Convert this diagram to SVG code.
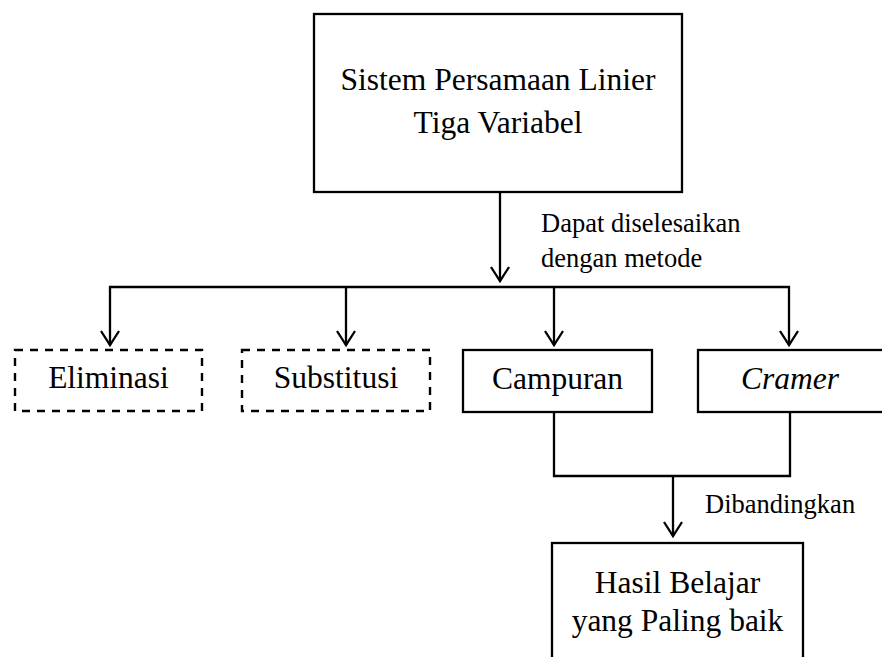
<svg xmlns="http://www.w3.org/2000/svg" width="882" height="657" viewBox="0 0 882 657">
<style>
.box{fill:#fff;stroke:#000;stroke-width:2.3}
.dash{fill:#fff;stroke:#000;stroke-width:2.4;stroke-dasharray:8 7}
.ln{fill:none;stroke:#000;stroke-width:2.3}
.ah{fill:none;stroke:#000;stroke-width:2.3;stroke-linejoin:miter}
.t{font-family:"Liberation Serif","Times New Roman",serif;font-size:31.5px;fill:#000;text-anchor:middle}
.lb{font-family:"Liberation Serif","Times New Roman",serif;font-size:26.5px;fill:#000}
</style>
<rect width="882" height="657" fill="#fff"/>
<g id="connectors">
<line class="ln" x1="500" y1="192" x2="500" y2="281"/>
<path class="ah" d="M491,267 L500,281 L509,267"/>
<polyline class="ln" points="110,345 110,287 789,287 789,345"/>
<line class="ln" x1="346" y1="287" x2="346" y2="345"/>
<line class="ln" x1="554" y1="287" x2="554" y2="345"/>
<path class="ah" d="M101,331 L110,345 L119,331"/>
<path class="ah" d="M337,331 L346,345 L355,331"/>
<path class="ah" d="M545,331 L554,345 L563,331"/>
<path class="ah" d="M780,331 L789,345 L798,331"/>
<polyline class="ln" points="554,412 554,476 790,476 790,412"/>
<line class="ln" x1="673" y1="476" x2="673" y2="536"/>
<path class="ah" d="M664,522 L673,536 L682,522"/>
<text class="lb" x="541" y="232">Dapat diselesaikan</text>
<text class="lb" x="541" y="267">dengan metode</text>
<text class="lb" x="705" y="513">Dibandingkan</text>
</g>
<g id="node-spltv">
<rect class="box" x="314" y="14" width="368" height="178"/>
<text class="t" x="498" y="90">Sistem Persamaan Linier</text>
<text class="t" x="498" y="133">Tiga Variabel</text>
</g>
<g id="node-eliminasi">
<rect class="dash" x="15" y="350" width="187" height="61"/>
<text class="t" x="108.5" y="388">Eliminasi</text>
</g>
<g id="node-substitusi">
<rect class="dash" x="242" y="350" width="188" height="61"/>
<text class="t" x="336" y="388">Substitusi</text>
</g>
<g id="node-campuran">
<rect class="box" x="463" y="350" width="189" height="62"/>
<text class="t" x="557.5" y="389">Campuran</text>
</g>
<g id="node-cramer">
<rect class="box" x="698" y="350" width="190" height="62"/>
<text class="t" x="790" y="389" font-style="italic">Cramer</text>
</g>
<g id="node-hasil">
<rect class="box" x="552" y="543" width="251" height="120"/>
<text class="t" x="677.5" y="593">Hasil Belajar</text>
<text class="t" x="677.5" y="631">yang Paling baik</text>
</g>
</svg>
